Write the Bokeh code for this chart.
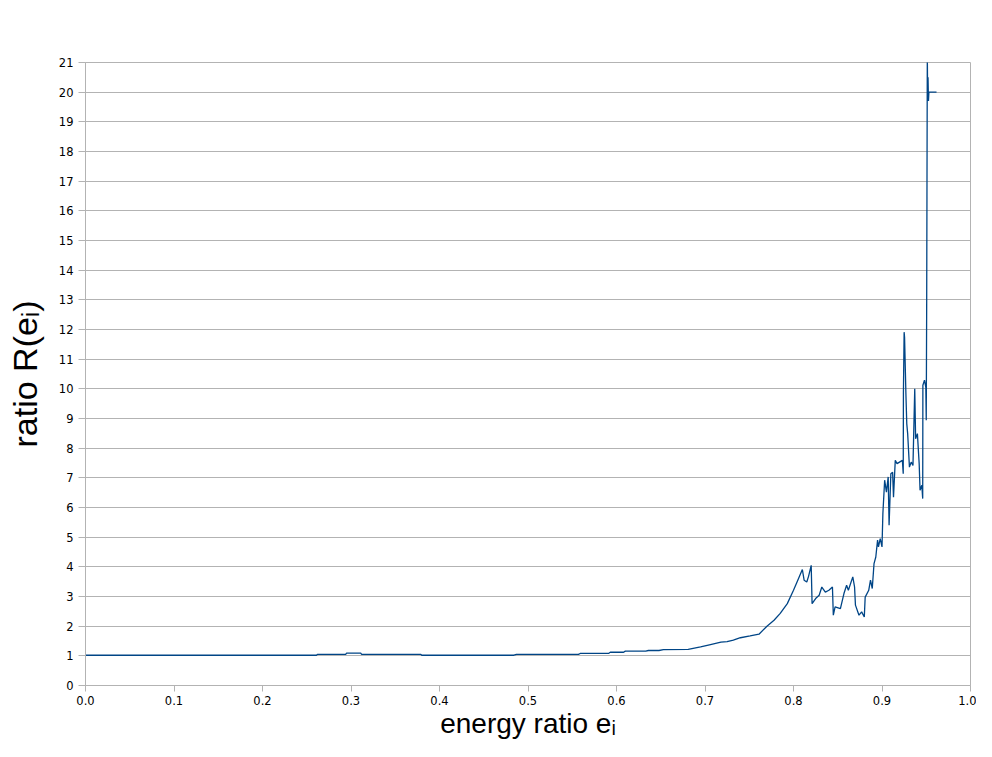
from bokeh.plotting import figure
from bokeh.models import Range1d, FixedTicker, PrintfTickFormatter
from bokeh.embed import file_html
from bokeh.resources import INLINE

# energy ratio e_i (x) and ratio R(e_i) (y)
e_vals = [0.000, 0.261, 0.262, 0.294, 0.295, 0.311, 0.312, 0.379, 0.380, 0.484,
          0.487, 0.557, 0.559, 0.591, 0.593, 0.608, 0.610, 0.633, 0.636, 0.648,
          0.653, 0.681, 0.695, 0.705, 0.718, 0.725, 0.732, 0.740, 0.751, 0.761,
          0.770, 0.778, 0.785, 0.793, 0.800, 0.804, 0.810, 0.812, 0.815, 0.817,
          0.820, 0.821, 0.825, 0.829, 0.832, 0.836, 0.840, 0.844, 0.845, 0.847,
          0.853, 0.857, 0.860, 0.862, 0.867, 0.869, 0.870, 0.874, 0.877, 0.880,
          0.881, 0.885, 0.887, 0.889, 0.891, 0.893, 0.895, 0.896, 0.898, 0.900,
          0.901, 0.903, 0.905, 0.907, 0.908, 0.910, 0.912, 0.913, 0.915, 0.917,
          0.923, 0.924, 0.9242, 0.925, 0.9255, 0.927, 0.928, 0.929, 0.931, 0.933,
          0.935, 0.937, 0.938, 0.940, 0.942, 0.943, 0.945, 0.946, 0.9462, 0.948,
          0.9495, 0.950, 0.9505, 0.9508, 0.9512, 0.9516, 0.9520, 0.9525, 0.9530, 0.9616]
r_vals = [1.02, 1.02, 1.05, 1.05, 1.09, 1.09, 1.05, 1.05, 1.02, 1.02,
          1.05, 1.05, 1.08, 1.08, 1.12, 1.12, 1.16, 1.16, 1.18, 1.18,
          1.21, 1.22, 1.30, 1.37, 1.46, 1.48, 1.53, 1.61, 1.67, 1.73,
          2.00, 2.20, 2.43, 2.76, 3.21, 3.49, 3.91, 3.55, 3.49, 3.68,
          4.05, 2.76, 2.93, 3.04, 3.32, 3.15, 3.21, 3.32, 2.37, 2.65,
          2.59, 3.10, 3.38, 3.21, 3.66, 3.32, 2.71, 2.37, 2.48, 2.31,
          2.98, 3.21, 3.55, 3.27, 4.11, 4.33, 4.90, 4.67, 4.95, 4.67,
          5.80, 6.92, 6.52, 7.03, 5.40, 7.14, 7.19, 6.35, 7.59, 7.48,
          7.59, 7.14, 9.84, 11.91, 11.74, 9.84, 8.82, 8.49, 7.36, 7.53,
          7.42, 10.00, 8.32, 8.49, 7.48, 6.58, 6.75, 6.30, 10.12, 10.29,
          10.06, 8.94, 12.98, 16.46, 21.30, 19.70, 20.50, 19.70, 20.00, 20.00]

x_ticks = [0.0, 0.1, 0.2, 0.3, 0.4, 0.5, 0.6, 0.7, 0.8, 0.9, 1.0]
y_ticks = [0, 1, 2, 3, 4, 5, 6, 7, 8, 9, 10, 11, 12, 13, 14, 15, 16, 17, 18, 19, 20, 21]

x_title = "energy ratio e\u1d62"
y_title = "ratio R(e\u1d62)"

GRID = "#b3b3b3"
LINE = "#004586"

p = figure(frame_width=885, frame_height=623,
           x_range=Range1d(0, 1), y_range=Range1d(0, 21),
           output_backend="svg", toolbar_location=None,
           min_border_left=85, min_border_right=6,
           min_border_top=62, min_border_bottom=56)
p.background_fill_color = "white"
p.border_fill_color = "white"
p.outline_line_color = GRID
p.outline_line_width = 1

p.xgrid.visible = False
p.ygrid.grid_line_color = GRID
p.ygrid.grid_line_width = 1

for ax in (p.xaxis[0], p.yaxis[0]):
    ax.axis_line_color = GRID
    ax.major_tick_line_color = GRID
    ax.minor_tick_line_color = None
    ax.major_tick_in = 0
    ax.major_label_text_font = "DejaVu Sans"
    ax.major_label_text_font_size = "11.5px"
    ax.major_label_text_color = "#000000"
    ax.axis_label_text_font = "Liberation Sans"
    ax.axis_label_text_font_style = "normal"
    ax.axis_label_text_color = "#000000"

p.xaxis.ticker = FixedTicker(ticks=x_ticks)
p.xaxis.formatter = PrintfTickFormatter(format="%.1f")
p.xaxis.major_tick_out = 6
p.xaxis.major_label_standoff = 4
p.xaxis.axis_label = x_title
p.xaxis.axis_label_text_font_size = "28px"
p.xaxis.axis_label_standoff = 0

p.yaxis.ticker = FixedTicker(ticks=y_ticks)
p.yaxis.major_tick_out = 7
p.yaxis.major_label_standoff = 5
p.yaxis.axis_label = y_title
p.yaxis.axis_label_text_font_size = "34px"
p.yaxis.axis_label_standoff = 12

p.line(e_vals, r_vals, line_color=LINE, line_width=1.3)

open("out.html", "w").write(file_html(p, INLINE))
